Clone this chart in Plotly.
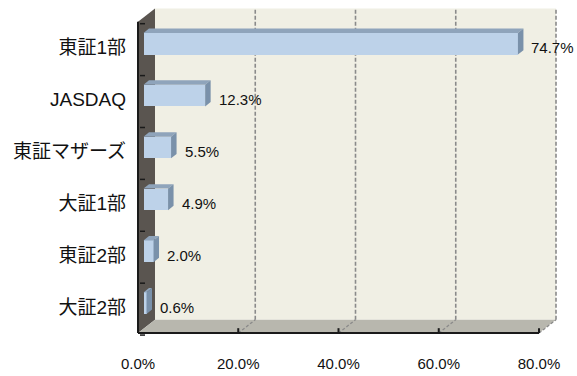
import plotly.graph_objects as go

# ---- data ----
categories = ["東証1部", "JASDAQ", "東証マザーズ", "大証1部", "東証2部", "大証2部"]
values = [74.7, 12.3, 5.5, 4.9, 2.0, 0.6]
value_labels = ["74.7%", "12.3%", "5.5%", "4.9%", "2.0%", "0.6%"]
x_ticks = [0, 20, 40, 60, 80]
x_tick_labels = ["0.0%", "20.0%", "40.0%", "60.0%", "80.0%"]

# ---- layout geometry (pixels) ----
W, H = 577, 376
L, R, T, B = 130, 565, 4, 345          # plot box
PX0, PXS = 138, 5.0125                 # front zero and px per unit
PY0, CH = 338, 52.667                  # front bottom and px per category
n = len(categories)

xr = [(L - PX0) / PXS, (R - PX0) / PXS]
yr = [(PY0 - B) / CH - 0.5, (PY0 - T) / CH - 0.5]

def dx(px):
    return px / PXS

def dy(px):
    return px / CH

DX, DY = dx(17), dy(13.5)             # depth of the 3D box
XMAX = x_ticks[-1]
YB, YT = -0.5, n - 0.5

ypos = [n - 1 - i for i in range(n)]

# bar 3D parameters
FDX, FDY = dx(5.5), dy(4)             # front face offset
BDX, BDY = dx(5.5), dy(4.5)           # bar depth
BW = dy(22)                           # bar face height

FACE = "#bdd2e9"
TOP = "#8fa4bb"
SIDE = "#7a91aa"
WALL_BACK = "#f0efe4"
WALL_LEFT = "#5a5550"
FLOOR = "#b8b7ae"
GRID = "#8a8a8a"

NUMFONT = "Liberation Sans, Arial, sans-serif"
CATFONT = "Liberation Sans, Noto Sans CJK JP, sans-serif"

shapes = []

def poly(pts, color):
    path = "M " + " L ".join(f"{x},{y}" for x, y in pts) + " Z"
    return dict(type="path", path=path, xref="x", yref="y", fillcolor=color,
                line=dict(width=0), layer="below")

# back wall, left wall, floor
shapes.append(poly([(DX, YB + DY), (XMAX + DX, YB + DY), (XMAX + DX, YT + DY), (DX, YT + DY)], WALL_BACK))
shapes.append(poly([(0, YB), (0, YT), (DX, YT + DY), (DX, YB + DY)], WALL_LEFT))
shapes.append(poly([(0, YB), (XMAX, YB), (XMAX + DX, YB + DY), (DX, YB + DY)], FLOOR))

# dashed gridlines on back wall + floor diagonals
for v in x_ticks[1:]:
    shapes.append(dict(type="line", xref="x", yref="y", x0=v + DX, x1=v + DX, y0=YB + DY, y1=YT + DY,
                       line=dict(color=GRID, width=1.6, dash="4px,2px"), layer="below"))
    shapes.append(dict(type="line", xref="x", yref="y", x0=v, x1=v + DX, y0=YB, y1=YB + DY,
                       line=dict(color=GRID, width=1.3, dash="3px,2px"), layer="below"))

# axis lines
shapes.append(dict(type="line", xref="x", yref="y", x0=0, x1=0, y0=YB, y1=YT,
                   line=dict(color="#1a1a1a", width=2), layer="below"))
shapes.append(dict(type="line", xref="x", yref="y", x0=0, x1=XMAX, y0=YB, y1=YB,
                   line=dict(color="#1a1a1a", width=2), layer="below"))
# x ticks (inside, upward)
for v in x_ticks[1:]:
    shapes.append(dict(type="line", xref="x", yref="y", x0=v, x1=v, y0=YB, y1=YB + dy(5),
                       line=dict(color="#1a1a1a", width=2), layer="below"))
# y ticks at category boundaries
for k in range(n + 1):
    yb = k - 0.5
    shapes.append(dict(type="line", xref="x", yref="y", x0=dx(2), x1=dx(7), y0=yb - dy(2), y1=yb - dy(2),
                       line=dict(color="#1a1a1a", width=1.5), layer="below"))

fig = go.Figure()

# bar front faces
fig.add_trace(go.Bar(
    y=[p + FDY for p in ypos], x=values, base=[FDX] * n, orientation="h",
    width=BW, marker=dict(color=FACE, line=dict(width=0)), hoverinfo="skip",
))

# top faces and side faces
tx, ty, sx, sy = [], [], [], []
for v, p in zip(values, ypos):
    x0 = FDX
    x1 = FDX + v
    yt = p + FDY + BW / 2
    ybot = p + FDY - BW / 2
    tx += [x0, x1, x1 + BDX, x0 + BDX, x0, None]
    ty += [yt, yt, yt + BDY, yt + BDY, yt, None]
    sx += [x1, x1 + BDX, x1 + BDX, x1, x1, None]
    sy += [yt, yt + BDY, ybot + BDY, ybot, yt, None]

fig.add_trace(go.Scatter(x=tx, y=ty, mode="lines", fill="toself", fillcolor=TOP,
                         line=dict(width=0, color=TOP), hoverinfo="skip"))
fig.add_trace(go.Scatter(x=sx, y=sy, mode="lines", fill="toself", fillcolor=SIDE,
                         line=dict(width=0, color=SIDE), hoverinfo="skip"))

annotations = []
for v, p, lab in zip(values, ypos, value_labels):
    annotations.append(dict(x=v, y=p, xref="x", yref="y", text=lab, showarrow=False,
                            xanchor="left", yanchor="middle", xshift=17,
                            font=dict(family=NUMFONT, size=15, color="#111")))

fig.update_layout(
    width=W, height=H,
    margin=dict(l=L, r=W - R, t=T, b=H - B, pad=0),
    paper_bgcolor="white", plot_bgcolor="white",
    showlegend=False,
    shapes=shapes, annotations=annotations,
    bargap=0,
    xaxis=dict(range=xr, tickvals=x_ticks, ticktext=x_tick_labels, showgrid=False,
               zeroline=False, showline=False, ticks="", ticklabelstandoff=13,
               tickfont=dict(family=NUMFONT, size=15, color="#111")),
    yaxis=dict(range=yr, tickvals=ypos, ticktext=categories, showgrid=False,
               zeroline=False, showline=False, ticks="", ticklabelstandoff=3,
               tickfont=dict(family=CATFONT, size=19, color="#111")),
)

fig.write_html("out.html")
